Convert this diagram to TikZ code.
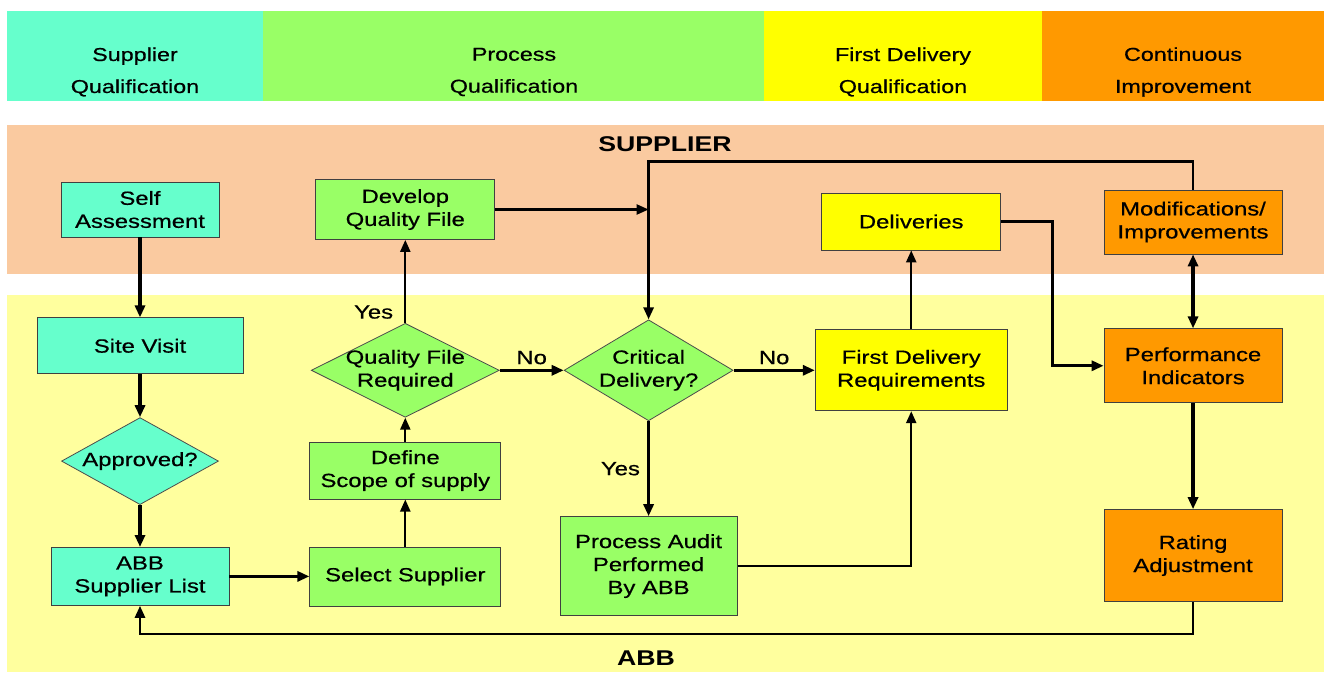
\documentclass[tikz,border=0pt]{standalone}
\usepackage{fontspec}
\setmainfont{Liberation Sans}[FakeStretch=1.25, UprightFeatures={FakeBold=0.6}]
\usetikzlibrary{positioning, arrows.meta, shapes.geometric}
\definecolor{qual_cyan}{RGB}{102,255,204}
\definecolor{qual_green}{RGB}{153,255,102}
\definecolor{qual_yellow}{RGB}{255,255,0}
\definecolor{qual_orange}{RGB}{255,153,0}
\definecolor{supplier_band}{RGB}{250,202,160}
\definecolor{abb_band}{RGB}{255,255,158}
\newcommand{\flowfont}{\fontsize{14.3}{17.25}\selectfont}
\newcommand{\bandfont}{\fontsize{14}{24}\selectfont}
\newcommand{\sidefont}{\fontsize{16}{19}\selectfont\bfseries}

\begin{document}
\begin{tikzpicture}[x=0.75pt, y=-0.75pt, >={Triangle[length=9pt,width=7.5pt]},
    box/.style={draw=black!75, line width=0.6pt, rectangle, align=center, font=\flowfont},
    decision/.style={draw=black!70, line width=0.6pt, diamond, inner sep=0pt},
    decision text/.style={align=center, font=\flowfont},
    band text/.style={align=center, font=\bandfont},
    thickline/.style={->, line width=2.4pt},
    thinline/.style={->, line width=1.7pt}]

    \useasboundingbox (0,0) rectangle (1327,674);

    % --- Begin Phase Bands ---
			\fill [qual_cyan] (7,11) rectangle (263,101);
			\fill [qual_green] (263,11) rectangle (764,101);
			\fill [qual_yellow] (764,11) rectangle (1042,101);
			\fill [qual_orange] (1042,11) rectangle (1324,101);
			\node [band text] (SupplierQual) at (135,72) {Supplier\\Qualification};
			\node [band text] (ProcessQual) at (514,72) {Process\\Qualification};
			\node [band text] (DeliveryQual) at (903,72) {First Delivery\\Qualification};
			\node [band text] (ContImprove) at (1183,72) {Continuous\\Improvement};
			% --- End Phase Bands ---

			% --- Begin Supplier / ABB Bands ---
			\fill [supplier_band] (7,125) rectangle (1324,274);
			\fill [abb_band] (7,295) rectangle (1324,672);
			\node [font=\sidefont] (SupplierSide) at (665,144) {SUPPLIER};
			\node [font=\sidefont] (ABBSide) at (646,658) {ABB};
			% --- End Supplier / ABB Bands ---

			% --- Begin Supplier Qualification Nodes ---
			\node [box, fill=qual_cyan, minimum width=118.5pt, minimum height=41.25pt] (SelfAssess) at (140,209.5) {Self\\Assessment};
			\node [box, fill=qual_cyan, minimum width=154.5pt, minimum height=42pt, below=60pt of SelfAssess] (SiteVisit) {Site Visit};
			\node [decision, fill=qual_cyan, minimum width=117.75pt, minimum height=65.25pt, below=32.25pt of SiteVisit,
				label={[decision text]center:Approved?}] (Approved) {};
			\node [box, fill=qual_cyan, minimum width=133.5pt, minimum height=43.5pt, below=31.5pt of Approved] (ABBList) {ABB\\Supplier List};
			% --- End Supplier Qualification Nodes ---

			% --- Begin Process Qualification Nodes ---
			\node [box, fill=qual_green, minimum width=143.25pt, minimum height=44.25pt, right=60pt of ABBList] (SelectSup) {Select Supplier};
			\node [box, fill=qual_green, minimum width=143.25pt, minimum height=42.75pt, above=35.25pt of SelectSup] (DefineScope) {Define\\Scope of supply};
			\node [decision, fill=qual_green, minimum width=141pt, minimum height=70.5pt, above=18pt of DefineScope,
				label={[decision text]center:{Quality File\\Required}}] (QFReq) {};
			\node [box, fill=qual_green, minimum width=134.25pt, minimum height=45pt, above=62.25pt of QFReq] (DevelopQF) {Develop\\Quality File};
			\node [decision, fill=qual_green, minimum width=126.75pt, minimum height=75.75pt, right=48pt of QFReq,
				label={[decision text]center:{Critical\\Delivery?}}] (Critical) {};
			\node [box, fill=qual_green, minimum width=132.75pt, minimum height=74.25pt, below=71.25pt of Critical] (ProcAudit) {Process Audit\\Performed\\By ABB};
			% --- End Process Qualification Nodes ---

			% --- Begin First Delivery Nodes ---
			\node [box, fill=qual_yellow, minimum width=144pt, minimum height=60.75pt, right=61pt of Critical] (FDReq) {First Delivery\\Requirements};
			\node [box, fill=qual_yellow, minimum width=134.25pt, minimum height=42.75pt, above=59.25pt of FDReq] (Deliveries) {Deliveries};
			% --- End First Delivery Nodes ---

			% --- Begin Continuous Improvement Nodes ---
			\node [box, fill=qual_orange, minimum width=133.5pt, minimum height=55.5pt, right=72pt of FDReq, yshift=3.4pt] (PerfInd) {Performance\\Indicators};
			\node [box, fill=qual_orange, minimum width=133.5pt, minimum height=48pt, above=55.5pt of PerfInd] (ModImp) {Modifications/\\Improvements};
			\node [box, fill=qual_orange, minimum width=133.5pt, minimum height=69pt, below=79.5pt of PerfInd] (Rating) {Rating\\Adjustment};
			% --- End Continuous Improvement Nodes ---

			% Connect the nodes.
			\draw[thickline] (SelfAssess) -- (SiteVisit);
			\draw[thickline] (SiteVisit) -- (Approved);
			\draw[thickline] (Approved) -- (ABBList);
			\draw[thickline] (ABBList) -- (SelectSup);
			\draw[thinline] (SelectSup) -- (DefineScope);
			\draw[thinline] (DefineScope) -- (QFReq);
			\draw[thinline] (QFReq) -- node[pos=0.13, left=5pt, font=\flowfont] {Yes} (DevelopQF);
			\draw[thickline] (QFReq) -- node[above, font=\flowfont] {No} (Critical);
			\draw[thinline] (DevelopQF.east) -- (DevelopQF.east -| Critical.north);
			\draw[thickline, line width=2pt] (ModImp.north) -- ++(0,-28) -| (Critical.north);
			\draw[thickline] (Critical) -- node[above, font=\flowfont] {No} (FDReq);
			\draw[thickline] (Critical) -- node[left=2pt, font=\flowfont] {Yes} (ProcAudit);
			\draw[thinline] (ProcAudit.east) -| (FDReq.south);
			\draw[thinline] (FDReq) -- (Deliveries);
			\draw[thickline] (Deliveries.east) -- ++(51.5,0) |- (PerfInd.west);
			\draw[thickline, <->] (ModImp) -- (PerfInd);
			\draw[thickline] (PerfInd) -- (Rating);
			\draw[thickline, line width=2pt] (Rating.south) -- ++(0,32) -| (ABBList.south);

  \end{tikzpicture}
\end{document}
